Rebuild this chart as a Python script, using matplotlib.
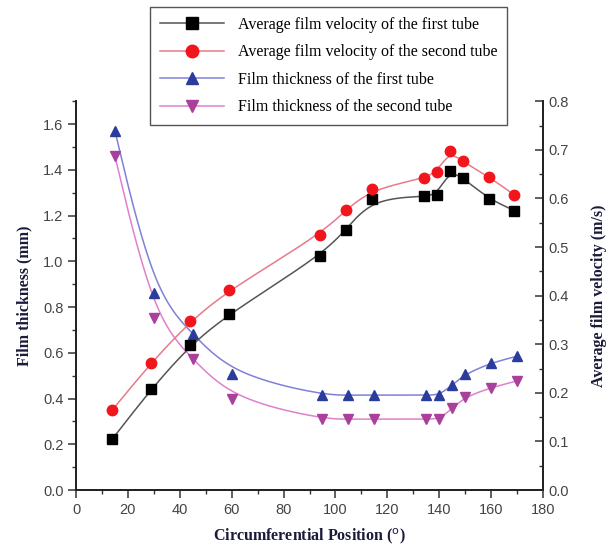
import numpy as np
import matplotlib
matplotlib.use("Agg")
from matplotlib import pyplot as plt
from matplotlib.ticker import MultipleLocator

# positions (velocity markers sit ~1 deg left of thickness ones)
pos_vel = [14, 29, 44, 59, 94, 104, 114, 134, 139, 144, 149, 159, 169]
pos_thk = [15, 30, 45, 60, 95, 105, 115, 135, 140, 145, 150, 160, 170]

vel_first = [0.105, 0.208, 0.298, 0.363, 0.481, 0.535, 0.599, 0.604, 0.607, 0.657, 0.643, 0.599, 0.575]
vel_second = [0.165, 0.262, 0.347, 0.412, 0.525, 0.576, 0.619, 0.641, 0.654, 0.697, 0.676, 0.645, 0.607]
thk_first = [1.57, 0.86, 0.684, 0.507, 0.415, 0.415, 0.415, 0.415, 0.415, 0.459, 0.507, 0.556, 0.585]
thk_second = [1.46, 0.75, 0.575, 0.40, 0.31, 0.31, 0.31, 0.31, 0.31, 0.357, 0.407, 0.448, 0.477]

labels = ["Average film velocity of the first tube",
          "Average film velocity of the second tube",
          "Film thickness of the first tube",
          "Film thickness of the second tube"]


def bspline(x, y, n=40):
    # cubic B-spline with the data as control points (Origin-style line)
    P = np.column_stack([x, y]).astype(float)
    P = np.vstack([P[:1], P[:1], P, P[-1:], P[-1:]])
    t = np.linspace(0, 1, n)[:, None]
    b0 = (1 - t)**3
    b1 = 3*t**3 - 6*t**2 + 4
    b2 = -3*t**3 + 3*t**2 + 3*t + 1
    b3 = t**3
    pts = []
    for i in range(len(P) - 3):
        pts.append((b0*P[i] + b1*P[i+1] + b2*P[i+2] + b3*P[i+3]) / 6)
    pts = np.vstack(pts)
    return pts[:, 0], pts[:, 1]


fig = plt.figure(figsize=(6.1, 5.5), dpi=100)
ax = fig.add_axes([0.1246, 0.109, 0.7656, 0.707])
ax2 = ax.twinx()

serif = "Liberation Serif"
sans = "Liberation Sans"

series = [
    (ax2, pos_vel, vel_first, "s", "#000000", "#555555", 6.5),
    (ax2, pos_vel, vel_second, "o", "#f0161c", "#e87a8a", 7.5),
    (ax, pos_thk, thk_first, "^", "#2c3c9c", "#8080d8", 7.5),
    (ax, pos_thk, thk_second, "v", "#a8409c", "#e080cc", 7.5),
]
handles = []
for a, xs, ys, mk, mc, lc, ms in series:
    cx, cy = bspline(xs, ys)
    a.plot(cx, cy, color=lc, lw=1.1, zorder=2)
    a.plot(xs, ys, ls="none", marker=mk, color=mc, ms=ms, zorder=3)
    h, = a.plot([], [], color=lc, lw=1.1, marker=mk, mfc=mc, mec=mc, ms=ms + 1.5)
    handles.append(h)

ax.set_xlim(0, 180)
ax.set_ylim(0, 1.7)
ax2.set_ylim(0, 0.8)
ax.xaxis.set_major_locator(MultipleLocator(20))
ax.xaxis.set_minor_locator(MultipleLocator(10))
ax.yaxis.set_minor_locator(MultipleLocator(0.1))
ax2.yaxis.set_major_locator(MultipleLocator(0.1))
ax2.yaxis.set_minor_locator(MultipleLocator(0.05))
ax.set_yticks(np.arange(0, 1.61, 0.2))
ax.set_yticklabels(["%.1f" % v for v in np.arange(0, 1.61, 0.2)])

for a in (ax, ax2):
    a.spines["top"].set_visible(False)
    for s in a.spines.values():
        s.set_linewidth(1.3)
        s.set_color("#222222")
ax.tick_params(which="major", direction="out", length=5.5, width=1.1, color="#333333",
               labelsize=10.5, labelcolor="#444444")
ax.tick_params(which="minor", direction="out", length=3, width=1.0, color="#333333")
ax2.tick_params(which="major", direction="in", length=5.5, width=1.1, color="#333333",
                labelsize=10.5, labelcolor="#444444")
ax2.tick_params(which="minor", direction="in", length=3, width=1.0, color="#333333")
for lab in ax.get_xticklabels() + ax.get_yticklabels() + ax2.get_yticklabels():
    lab.set_family(sans)

ax.set_xlabel("Circumferential Position ($^{\\mathrm{o}}$)", family=serif, fontsize=11.5,
              fontweight="bold", color="#1a1a3a", labelpad=7)
ax.set_ylabel("Film thickness (mm)", family=serif, fontsize=11.5, fontweight="bold",
              color="#1a1a3a", labelpad=8)
ax2.set_ylabel("Average film velocity (m/s)", family=serif, fontsize=11.5, fontweight="bold",
               color="#1a1a3a", labelpad=16)

leg = fig.legend(handles, labels, loc="upper left", bbox_to_anchor=(0.246, 0.987),
                 borderaxespad=0, prop={"family": serif, "size": 11.5}, handlelength=4.0,
                 handletextpad=0.9, labelspacing=0.72, borderpad=0.6, fancybox=False,
                 framealpha=1, edgecolor="#555555")
leg.get_frame().set_linewidth(1.0)

fig.savefig("out.png", dpi=100)
